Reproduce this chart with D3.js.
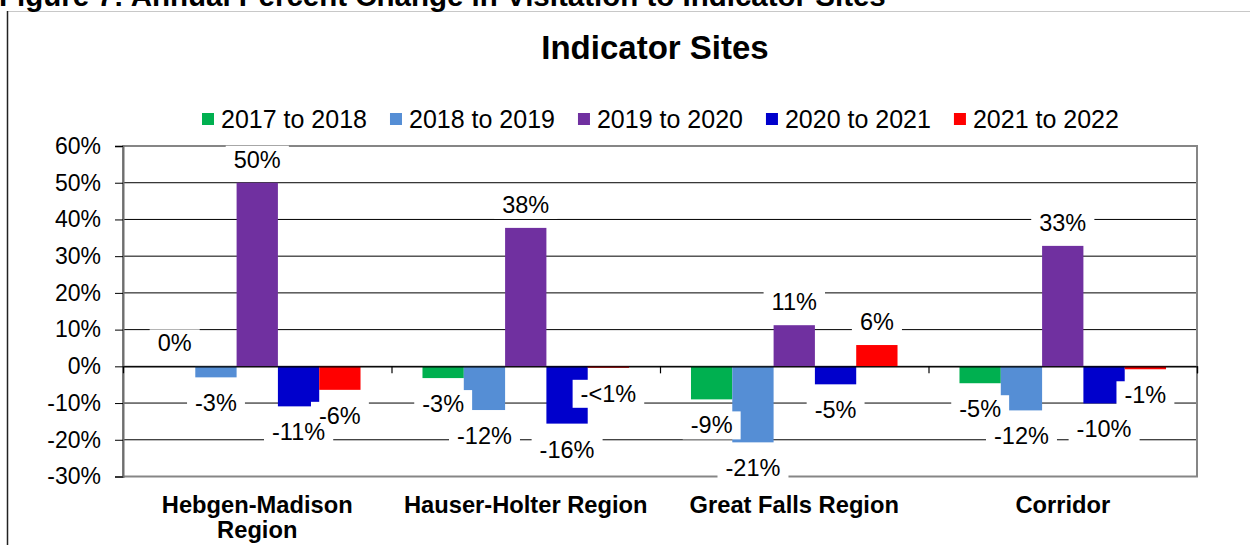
<!DOCTYPE html>
<html>
<head>
<meta charset="utf-8">
<script src="https://cdn.jsdelivr.net/npm/d3@7"></script>
<style>
  body { margin: 0; background: #fff; }
  svg { display: block; font-family: "Liberation Sans", Arial, sans-serif; }
</style>
</head>
<body>
<div id="chart"></div>
<script>
// categories (second entry = wrapped line)
const categories = [["Hebgen-Madison", "Region"], ["Hauser-Holter Region"], ["Great Falls Region"], ["Corridor"]];
const seriesNames = ["2017 to 2018", "2018 to 2019", "2019 to 2020", "2020 to 2021", "2021 to 2022"];
const seriesColors = ["#00B050", "#558ED5", "#7030A0", "#0000CC", "#FF0000"];

// percent change, one array per period
const change1718 = [0.0, -3.2, -9.0, -4.6];
const change1819 = [-3.0, -11.9, -20.7, -12.0];
const change1920 = [50.0, 37.7, 11.2, 32.8];
const change2021 = [-10.9, -15.6, -4.9, -10.1];
const change2122 = [-6.4, -0.4, 5.8, -0.8];

// data labels as printed on the chart
const labels1718 = ["0%", "-3%", "-9%", "-5%"];
const labels1819 = ["-3%", "-12%", "-21%", "-12%"];
const labels1920 = ["50%", "38%", "11%", "33%"];
const labels2021 = ["-11%", "-16%", "-5%", "-10%"];
const labels2122 = ["-6%", "-<1%", "6%", "-1%"];

const yTicks = [-30, -20, -10, 0, 10, 20, 30, 40, 50, 60];

const heading = "Figure 7: Annual Percent Change in Visitation to Indicator Sites";
const title = "Indicator Sites";

const allValues = [change1718, change1819, change1920, change2021, change2122];
const allLabels = [labels1718, labels1819, labels1920, labels2021, labels2122];

const W = 1250, H = 545;
const plot = { left: 123, right: 1197, top: 146, bottom: 476.5 };

const svg = d3.select("#chart").append("svg")
  .attr("width", W)
  .attr("height", H);

// outer frame (cut by the page edges)
svg.append("line").attr("x1", 7).attr("x2", W).attr("y1", 11.5).attr("y2", 11.5)
  .attr("stroke", "#c8c8c8").attr("stroke-width", 1);
svg.append("line").attr("x1", 7.5).attr("x2", 7.5).attr("y1", 11).attr("y2", H)
  .attr("stroke", "#222").attr("stroke-width", 1.5);

// figure heading, mostly cropped off the top
svg.append("text")
  .attr("x", -1).attr("y", 6)
  .attr("font-size", 29.5).attr("font-weight", "bold")
  .text(heading);

// chart title
svg.append("text")
  .attr("x", 655).attr("y", 59)
  .attr("text-anchor", "middle")
  .attr("font-size", 33).attr("font-weight", "bold")
  .text(title);

// scales
const x0 = d3.scaleBand()
  .domain(d3.range(categories.length))
  .range([plot.left, plot.right])
  .padding(0);

const x1 = d3.scaleBand()
  .domain(d3.range(seriesNames.length))
  .range([0, x0.bandwidth()])
  .paddingInner(0)
  .paddingOuter(0.75);

const y = d3.scaleLinear()
  .domain([-30, 60])
  .range([plot.bottom, plot.top]);

// gridlines
svg.append("g")
  .selectAll("line")
  .data(yTicks)
  .join("line")
  .attr("x1", plot.left).attr("x2", plot.right)
  .attr("y1", d => y(d)).attr("y2", d => y(d))
  .attr("stroke", "#000").attr("stroke-width", 1);

// plot border
svg.append("rect")
  .attr("x", plot.left).attr("y", plot.top)
  .attr("width", plot.right - plot.left).attr("height", plot.bottom - plot.top)
  .attr("fill", "none").attr("stroke", "#868686").attr("stroke-width", 2);

// y axis
const yAxis = svg.append("g")
  .attr("transform", `translate(${plot.left},0)`)
  .call(d3.axisLeft(y).tickValues(yTicks).tickSize(8).tickPadding(14).tickFormat(d => d + "%"));
yAxis.select(".domain").attr("stroke", "#6e6e6e").attr("stroke-width", 2);
yAxis.selectAll(".tick line").attr("stroke", "#000");
yAxis.selectAll(".tick text")
  .attr("font-size", 23).attr("fill", "#000")
  .attr("font-family", "Liberation Sans, Arial, sans-serif");

// bars
const groups = svg.append("g")
  .selectAll("g")
  .data(allValues)
  .join("g")
  .attr("fill", (d, i) => seriesColors[i]);

groups.each(function (vals, si) {
  d3.select(this).selectAll("rect")
    .data(vals)
    .join("rect")
    .attr("x", (v, ci) => x0(ci) + x1(si))
    .attr("width", x1.bandwidth())
    .attr("y", v => y(Math.max(0, v)))
    .attr("height", v => Math.abs(y(v) - y(0)));
});

// category axis at zero, with ticks between groups
const xEdge = d3.scaleLinear().domain([0, categories.length]).range([plot.left, plot.right]);
const xAxis = svg.append("g")
  .attr("transform", `translate(0,${y(0)})`)
  .call(d3.axisBottom(xEdge).tickValues(d3.range(1, categories.length + 1)).tickSize(7).tickFormat(""));
xAxis.select(".domain").attr("stroke", "#000").attr("stroke-width", 1.2);
xAxis.selectAll(".tick line").attr("stroke", "#000").attr("stroke-width", 1.2);

// category labels
const catLabels = svg.append("g")
  .selectAll("text")
  .data(categories)
  .join("text")
  .attr("text-anchor", "middle")
  .attr("font-size", 23.7).attr("font-weight", "bold")
  .attr("y", 513);
catLabels.each(function (lines, ci) {
  d3.select(this).selectAll("tspan")
    .data(lines)
    .join("tspan")
    .attr("x", x0(ci) + x0.bandwidth() / 2)
    .attr("dy", (l, li) => li === 0 ? 0 : 25)
    .text(l => l);
});

// data labels: white boxes first, then all texts on top
const boxLayer = svg.append("g");
const textLayer = svg.append("g");
allValues.forEach((vals, si) => {
  vals.forEach((v, ci) => {
    const cx = x0(ci) + x1(si) + x1.bandwidth() / 2;
    const cy = v >= 0 ? y(v) - 23 : y(v) + 26;
    const t = textLayer.append("text")
      .attr("x", cx).attr("y", cy + 8)
      .attr("text-anchor", "middle")
      .attr("font-size", 23.5)
      .text(allLabels[si][ci]);
    const bb = t.node().getBBox();
    boxLayer.append("rect").attr("fill", "#fff")
      .attr("x", bb.x - 8).attr("y", cy - 14)
      .attr("width", bb.width + 16).attr("height", 28);
  });
});

// legend
const legend = svg.append("g").attr("transform", "translate(202,0)");
let lx = 0;
seriesNames.forEach((name, i) => {
  legend.append("rect")
    .attr("x", lx).attr("y", 113)
    .attr("width", 12).attr("height", 12)
    .attr("fill", seriesColors[i]);
  const t = legend.append("text")
    .attr("x", lx + 19).attr("y", 128)
    .attr("font-size", 25)
    .text(name);
  lx += 19 + t.node().getComputedTextLength() + 23;
});
</script>
</body>
</html>
